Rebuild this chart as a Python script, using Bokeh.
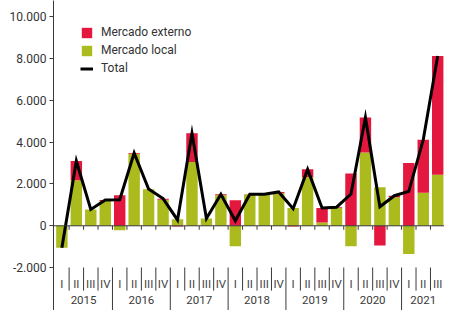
from bokeh.plotting import figure
from bokeh.models import ColumnDataSource, FixedTicker, Span, Legend, LegendItem, Range1d
from bokeh.embed import file_html
from bokeh.resources import INLINE
from bokeh.core.properties import value

years = ["2015", "2016", "2017", "2018", "2019", "2020", "2021"]
quarters = ["I", "II", "III", "IV"] * 6 + ["I", "II", "III"]
quarter_year = [y for y in years[:-1] for _ in range(4)] + ["2021"] * 3

mercado_local = [-1050, 2180, 775, 1190, -215, 3450, 1745, 1250, 310, 3050, 345, 1460,
                 -980, 1495, 1495, 1560, 850, 2330, 155, 850, -980, 3510, 1850, 1360,
                 -1355, 1580, 2440]
mercado_externo = [0, 920, 0, 50, 1460, 30, 0, 50, -30, 1380, 5, 50,
                   1220, 15, 15, 60, -30, 370, 695, 40, 2500, 1670, -940, 80,
                   3000, 2535, 5690]
total = [-1050, 3100, 780, 1240, 1245, 3480, 1760, 1300, 280, 4430, 350, 1510,
         240, 1510, 1510, 1620, 820, 2700, 850, 890, 1520, 5180, 910, 1440,
         1645, 4115, 8130]

y_ticks = [-2000, 0, 2000, 4000, 6000, 8000, 10000]
y_tick_labels = ["-2.000", "0", "2.000", "4.000", "6.000", "8.000", "10.000"]

RED = "#E4173E"
GREEN = "#ABBA1D"
DARK = "#3a3a3a"
FONT = "Roboto"

n = len(quarters)
idx = list(range(n))

# stacking: positives up from 0, negatives down from 0
loc_bottom = [0] * n
loc_top = mercado_local
ext_bottom = [l if (l >= 0) == (e >= 0) else 0 for l, e in zip(mercado_local, mercado_externo)]
ext_top = [b + e for b, e in zip(ext_bottom, mercado_externo)]

src = ColumnDataSource(dict(x=idx, lb=loc_bottom, lt=loc_top, eb=ext_bottom, et=ext_top, tot=total))

Y0, Y1 = -4053, 10780
p = figure(width=444, height=310, output_backend="svg", toolbar_location=None,
           x_range=Range1d(-0.58, 26.47), y_range=Range1d(Y0, Y1),
           x_axis_location=None, min_border_left=53, min_border_right=0,
           min_border_top=0, min_border_bottom=0)
p.outline_line_color = None
p.xgrid.visible = False
p.ygrid.visible = False

r_loc = p.vbar(x="x", bottom="lb", top="lt", width=0.79, source=src, fill_color=GREEN, line_color=None)
r_ext = p.vbar(x="x", bottom="eb", top="et", width=0.79, source=src, fill_color=RED, line_color=None)

p.add_layout(Span(location=0, dimension="width", line_color=DARK, line_width=1))

r_tot = p.line(x="x", y="tot", source=src, line_color="black", line_width=3, line_join="miter")

# ticks at zero line and separators below
bx = [i + 0.5 for i in range(n - 1)]
p.segment(x0=bx, x1=bx, y0=[0] * len(bx), y1=[-190] * len(bx), line_color=DARK, line_width=1)
sep_bottom = [Y0 if quarters[i + 1] == "I" else -3100 for i in range(n - 1)]
p.segment(x0=bx, x1=bx, y0=[-1995] * len(bx), y1=sep_bottom, line_color=DARK, line_width=1)

p.text(x=idx, y=[-2800] * n, text=quarters, text_align="center", text_baseline="middle",
       text_font=value(FONT), text_font_size="11.5px", text_color="#444444")
yx = [sum(i for i in idx if quarter_year[i] == y) / quarter_year.count(y) for y in years]
p.text(x=yx, y=[-3560] * len(years), text=years, text_align="center", text_baseline="middle",
       text_font=value(FONT), text_font_size="11.5px", text_color="#3a3a3a")

ax = p.yaxis[0]
ax.ticker = FixedTicker(ticks=y_ticks)
ax.major_label_overrides = {t: l for t, l in zip(y_ticks, y_tick_labels)}
ax.major_label_text_font = FONT
ax.major_label_text_font_size = "12px"
ax.major_label_text_color = "#333333"
ax.axis_line_color = DARK
ax.major_tick_line_color = DARK
ax.major_tick_out = 4
ax.major_tick_in = 0
ax.minor_tick_line_color = None
ax.major_label_standoff = 3

legend = Legend(items=[
    LegendItem(label="Mercado externo", renderers=[r_ext]),
    LegendItem(label="Mercado local", renderers=[r_loc]),
    LegendItem(label="Total", renderers=[r_tot]),
], location=(27, 235), padding=0, margin=0, spacing=4, glyph_width=13, glyph_height=13,
    label_height=13, label_standoff=8, label_text_font=FONT, label_text_font_size="12px",
    label_text_color="#333333", border_line_color=None, background_fill_alpha=0)
p.add_layout(legend)

open("out.html", "w").write(file_html(p, INLINE))
